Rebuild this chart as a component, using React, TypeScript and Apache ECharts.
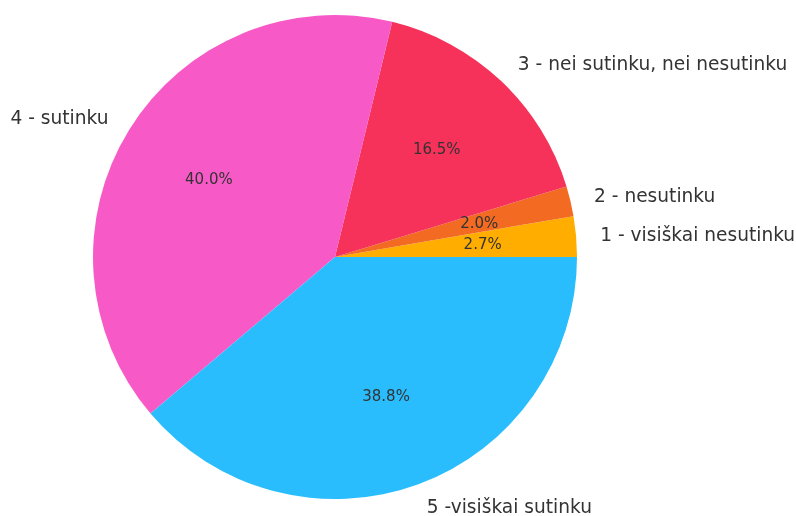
import React, { useEffect, useRef } from "react";
import * as echarts from "echarts";

const categories = [
  "1 - visiškai nesutinku",
  "2 - nesutinku",
  "3 - nei sutinku, nei nesutinku",
  "4 - sutinku",
  "5 -visiškai sutinku",
];
const values = [2.7, 2.0, 16.5, 40.0, 38.8];
const colors = ["#FFAE00", "#F36B22", "#F6325A", "#F75AC7", "#2ABDFE"];

const CX = 335;
const CY = 257;
const R = 242;

export default function App() {
  const ref = useRef<HTMLDivElement>(null);
  useEffect(() => {
    if (!ref.current) return;
    const chart = echarts.init(ref.current, null, { renderer: "svg" });
    const mainData = categories.map((name, i) => ({
      name,
      value: values[i],
      itemStyle: { color: colors[i] },
    }));
    chart.setOption({
      animation: false,
      textStyle: { fontFamily: "DejaVu Sans" },
      series: [
        {
          type: "pie",
          center: [CX, CY],
          radius: [0, R],
          startAngle: 0,
          clockwise: false,
          avoidLabelOverlap: false,
          silent: true,
          data: mainData,
          itemStyle: { borderWidth: 0 },
          label: {
            show: true,
            position: "outside",
            formatter: "{b}",
            color: "#333",
            fontSize: 18.6,
            fontFamily: "DejaVu Sans",
            distanceToLabelLine: 0,
          },
          labelLine: { show: false, length: R * 0.1, length2: 0 },
          emphasis: { disabled: true },
        },
        {
          type: "pie",
          center: [CX, CY],
          radius: [0, R * 1.2],
          startAngle: 0,
          clockwise: false,
          avoidLabelOverlap: false,
          silent: true,
          z: 3,
          data: categories.map((name, i) => ({ name, value: values[i] })),
          itemStyle: { color: "rgba(0,0,0,0)", borderWidth: 0 },
          label: {
            show: true,
            position: "inside",
            formatter: (p: any) => `${Number(p.value).toFixed(1)}%`,
            color: "#333",
            fontSize: 15,
            fontFamily: "DejaVu Sans",
          },
          labelLine: { show: false },
          emphasis: { disabled: true },
        },
      ],
    });
    return () => chart.dispose();
  }, []);
  return (
    <div
      ref={ref}
      style={{ position: "fixed", left: 0, top: 0, width: 796, height: 516 }}
    />
  );
}
